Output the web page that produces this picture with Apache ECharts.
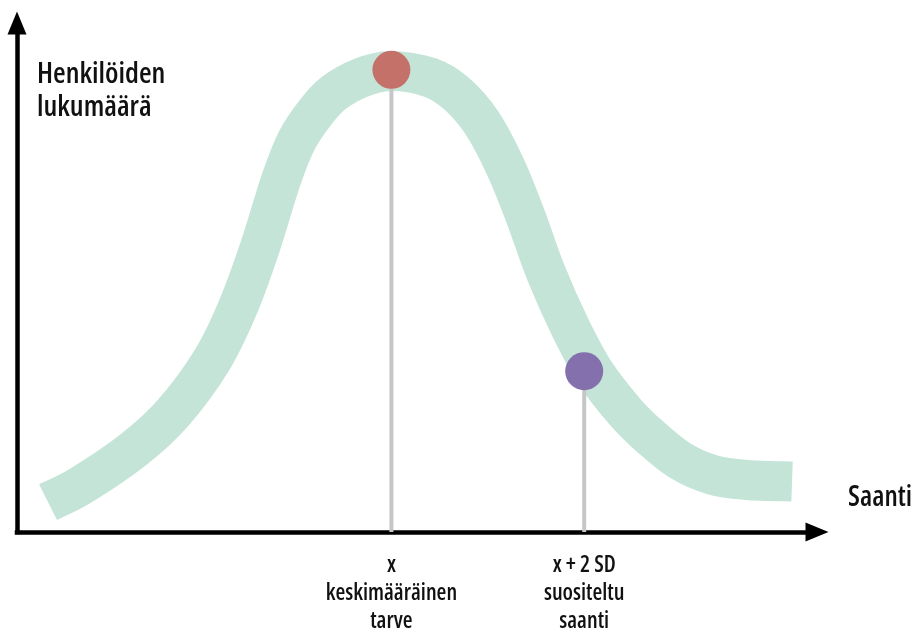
<!DOCTYPE html>
<html>
<head>
<meta charset="utf-8">
<script src="https://cdn.jsdelivr.net/npm/echarts@6/dist/echarts.min.js"></script>
<style>
html,body{margin:0;padding:0;background:#fff;}
#chart{width:919px;height:639px;}
</style>
</head>
<body>
<div id="chart"></div>
<script>
// Bell curve centre line (x = saanti, y = henkilöiden lukumäärä)
const curveX = [3.88, 7.88, 14.5, 19.5, 24.38, 27.63, 30.38, 33.0, 35.0, 37.25, 39.5, 42.88, 46.63,
                51.63, 55.0, 58.13, 61.06, 63.59, 66.13, 69.13, 72.25, 76.13, 79.13, 82.88, 87.0, 91.25, 96.88];
const curveY = [5.89, 9.04, 16.11, 23.38, 33.79, 44.2, 55.99, 69.16, 77.01, 82.32, 86.15, 89.19, 90.57,
                89.29, 86.05, 80.35, 71.71, 61.89, 50.88, 40.28, 31.24, 23.38, 18.74, 14.05, 11.2, 10.22, 9.92];
// Marked points: mean requirement and mean + 2 SD
const meanPoint = [46.8, 90.8];
const sdPoint = [70.9, 31.6];
// Labels
const tickValues = [meanPoint[0], sdPoint[0]];
const tickLabels = ['x\nkeskimääräinen\ntarve', 'x + 2 SD\nsuositeltu\nsaanti'];
const yName = 'Henkilöiden\nlukumäärä';
const xName = 'Saanti';

const FONT = "'Open Sans', 'Roboto Condensed', sans-serif";
const WEIGHT = '600 condensed';

function renderCurve(params, api) {
  if (params.dataIndex !== 0) return;
  const pts = curveX.map((x, i) => api.coord([x, curveY[i]]));
  const n = pts.length;
  let d = 'M' + pts[0][0] + ',' + pts[0][1];
  for (let i = 0; i < n - 1; i++) {
    const p0 = pts[Math.max(0, i - 1)], p1 = pts[i], p2 = pts[i + 1], p3 = pts[Math.min(n - 1, i + 2)];
    const c1 = [p1[0] + (p2[0] - p0[0]) / 6, p1[1] + (p2[1] - p0[1]) / 6];
    const c2 = [p2[0] - (p3[0] - p1[0]) / 6, p2[1] - (p3[1] - p1[1]) / 6];
    d += ' C' + c1[0] + ',' + c1[1] + ' ' + c2[0] + ',' + c2[1] + ' ' + p2[0] + ',' + p2[1];
  }
  return {
    type: 'path',
    shape: {pathData: d},
    style: {stroke: '#c5e4d8', lineWidth: 40, fill: 'none', lineCap: 'butt', lineJoin: 'round'}
  };
}

const chart = echarts.init(document.getElementById('chart'), null, {renderer: 'canvas'});
chart.setOption({
  animation: false,
  backgroundColor: '#ffffff',
  grid: {left: 17, right: 102, top: 23, bottom: 107, containLabel: false, outerBoundsMode: 'none'},
  xAxis: {
    type: 'value', min: 0, max: 100,
    name: xName, nameLocation: 'end', nameGap: 31,
    nameTextStyle: {fontFamily: FONT, fontWeight: WEIGHT, fontSize: 28, color: '#111', verticalAlign: 'bottom', lineHeight: 28, padding: [0, 0, 20, 0]},
    axisLine: {show: true, onZero: true, symbol: ['none', 'triangle'], symbolSize: [19, 23],
      lineStyle: {color: '#000', width: 4.5, cap: 'square'}},
    axisTick: {show: false},
    splitLine: {show: false},
    axisLabel: {
      show: true, customValues: tickValues, margin: 20,
      formatter: function (v) {
        const i = tickValues.indexOf(v);
        return i >= 0 ? tickLabels[i] : '';
      },
      fontFamily: FONT, fontWeight: WEIGHT, fontSize: 22.5, lineHeight: 28, color: '#111', align: 'center'
    }
  },
  yAxis: {
    type: 'value', min: 0, max: 100,
    name: yName, nameLocation: 'end', nameGap: -35,
    nameTextStyle: {fontFamily: FONT, fontWeight: WEIGHT, fontSize: 29, lineHeight: 33, color: '#111', align: 'left', verticalAlign: 'top', padding: [0, 0, 0, 20]},
    axisLine: {show: true, symbol: ['none', 'triangle'], symbolSize: [19, 23],
      lineStyle: {color: '#000', width: 4.5, cap: 'square'}},
    axisTick: {show: false},
    splitLine: {show: false},
    axisLabel: {show: false}
  },
  series: [
    {
      type: 'custom', data: [[curveX[0], curveY[0]]], renderItem: renderCurve, z: 1, silent: true
    },
    {
      type: 'line', data: [[meanPoint[0], 0], meanPoint], symbol: 'none', z: 2,
      lineStyle: {color: '#c6c6c6', width: 4}
    },
    {
      type: 'line', data: [[sdPoint[0], 0], sdPoint], symbol: 'none', z: 2,
      lineStyle: {color: '#c6c6c6', width: 4}
    },
    {
      type: 'scatter', data: [meanPoint], symbolSize: 38, z: 3,
      itemStyle: {color: '#c4716a', opacity: 1}
    },
    {
      type: 'scatter', data: [sdPoint], symbolSize: 38, z: 3,
      itemStyle: {color: '#8470ad', opacity: 1}
    }
  ]
});
</script>
</body>
</html>
